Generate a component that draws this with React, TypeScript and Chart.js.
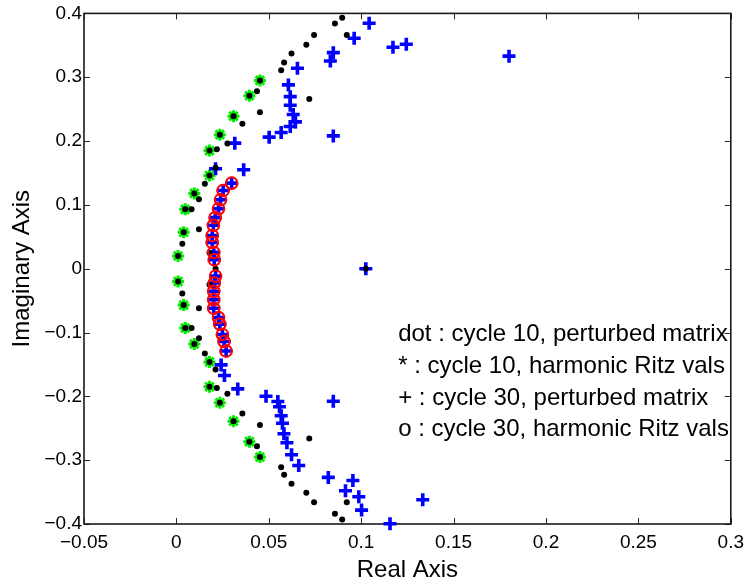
import React, { useEffect, useRef } from "react";
import { Chart, registerables } from "chart.js";

Chart.register(...registerables);

// cycle 10, perturbed matrix (dots)
const dot10Re = [
  0.0897, 0.0858, 0.0922, 0.0745, 0.0703, 0.0623, 0.0583, 0.0567, 0.0452, 0.0436,
  0.0395, 0.0719, 0.0452, 0.0309, 0.0357, 0.0235, 0.0276, 0.0219, 0.0179, 0.0212,
  0.0179, 0.0154, 0.0097, 0.0122, 0.0048, 0.0082, 0.0122, 0.0039, 0.0032, 0.0009,
  0.0179, 0.0212, 0.1025,
  0.0009, 0.0179, 0.0032, 0.0039, 0.0122, 0.0048, 0.0082, 0.0122, 0.0097, 0.0154,
  0.0179, 0.0212, 0.0179, 0.0219, 0.0276, 0.0235, 0.0357, 0.0309, 0.0452, 0.0719,
  0.0395, 0.0436, 0.0452, 0.0567, 0.0583, 0.0623, 0.0703, 0.0745, 0.0922, 0.0858,
  0.0897,
];
const dot10Im = [
  0.393, 0.384, 0.366, 0.366, 0.351, 0.337, 0.323, 0.311, 0.295, 0.278,
  0.271, 0.266, 0.245, 0.239, 0.227, 0.210, 0.196, 0.187, 0.185, 0.158,
  0.146, 0.133, 0.118, 0.109, 0.093, 0.093, 0.062, 0.057, 0.039, 0.020,
  0.025, 0.0, 0.0,
  -0.020, -0.025, -0.039, -0.057, -0.062, -0.093, -0.093, -0.109, -0.118, -0.133,
  -0.146, -0.158, -0.185, -0.187, -0.196, -0.210, -0.227, -0.239, -0.245, -0.266,
  -0.271, -0.278, -0.295, -0.311, -0.323, -0.337, -0.351, -0.366, -0.366, -0.384,
  -0.393,
];

// cycle 10, harmonic Ritz values (*)
const star10Re = [
  0.0452, 0.0395, 0.0309, 0.0235, 0.0179, 0.0179, 0.0097, 0.0048, 0.0039, 0.0009,
  0.0009, 0.0039, 0.0048, 0.0097, 0.0179, 0.0179, 0.0235, 0.0309, 0.0395, 0.0452,
];
const star10Im = [
  0.295, 0.271, 0.239, 0.210, 0.185, 0.146, 0.118, 0.093, 0.057, 0.020,
  -0.020, -0.057, -0.093, -0.118, -0.146, -0.185, -0.210, -0.239, -0.271, -0.295,
];

// cycle 30, perturbed matrix (+), points away from the Ritz values
const plus30Re = [
  0.1043, 0.0962, 0.0849, 0.0833, 0.1172, 0.1244, 0.180, 0.0655, 0.0606, 0.0616,
  0.0616, 0.0632, 0.0644, 0.0616, 0.0567, 0.0502, 0.0849, 0.0316, 0.0212, 0.0364,
  0.1025,
  0.0242, 0.0260, 0.0332, 0.0485, 0.0549, 0.0558, 0.0567, 0.0574, 0.0582, 0.0598,
  0.0623, 0.0662, 0.0822, 0.0849, 0.0955, 0.0915, 0.0987, 0.1002, 0.1156, 0.1333,
];
const plus30Im = [
  0.3845, 0.361, 0.3385, 0.3255, 0.347, 0.3516, 0.333, 0.314, 0.288, 0.2696,
  0.2562, 0.2415, 0.230, 0.2227, 0.2133, 0.2061, 0.2081, 0.1967, 0.1565, 0.155,
  0.0,
  -0.1507, -0.1674, -0.1883, -0.1998, -0.2081, -0.2164, -0.2305, -0.2421, -0.2587, -0.2728,
  -0.2915, -0.3083, -0.327, -0.2077, -0.3318, -0.348, -0.3573, -0.3782, -0.3995, -0.362,
];

// cycle 30, harmonic Ritz values (o); the + marks of cycle 30 coincide with them
const circ30Re = [
  0.0299, 0.0253, 0.0239, 0.0228, 0.0210, 0.0200, 0.0194, 0.0194, 0.0202, 0.0205,
  0.0212, 0.0205, 0.0202, 0.0202, 0.0202, 0.0228, 0.0235, 0.0249, 0.0258, 0.0269,
];
const circ30Im = [
  0.134, 0.1225, 0.108, 0.094, 0.080, 0.068, 0.052, 0.041, 0.0255, 0.014,
  -0.0116, -0.0225, -0.0355, -0.0485, -0.062, -0.0767, -0.087, -0.103, -0.114, -0.129,
];

const legendLines = [
  "dot : cycle 10, perturbed matrix",
  "* : cycle 10, harmonic Ritz vals",
  "+ : cycle 30, perturbed matrix",
  "o : cycle 30, harmonic Ritz vals",
];

const FONT = "'Liberation Sans', Arial, Helvetica, sans-serif";

function pts(re: number[], im: number[]) {
  return re.map((x, i) => ({ x, y: im[i] }));
}

function fmt(v: number, d: number) {
  const s = String(Number(v.toFixed(d)));
  return s.replace("-", "\u2212");
}

const boxPlugin = {
  id: "matlabBox",
  beforeDatasetsDraw(chart: any) {
    const { ctx, chartArea } = chart;
    const { left, right, top, bottom } = chartArea;
    const xs = chart.scales.x;
    const ys = chart.scales.y;
    ctx.save();
    ctx.strokeStyle = "#262626";
    ctx.lineWidth = 1;
    const tl = 6;
    ctx.beginPath();
    xs.ticks.forEach((t: any) => {
      const p = Math.round(xs.getPixelForValue(t.value)) + 0.5;
      ctx.moveTo(p, bottom);
      ctx.lineTo(p, bottom - tl);
      ctx.moveTo(p, top);
      ctx.lineTo(p, top + tl);
    });
    ys.ticks.forEach((t: any) => {
      const p = Math.round(ys.getPixelForValue(t.value)) + 0.5;
      ctx.moveTo(left, p);
      ctx.lineTo(left + tl, p);
      ctx.moveTo(right, p);
      ctx.lineTo(right - tl, p);
    });
    ctx.stroke();
    ctx.lineWidth = 1.6;
    ctx.strokeStyle = "#1a1a1a";
    ctx.strokeRect(left, top, right - left, bottom - top);
    ctx.restore();
  },
  afterDraw(chart: any) {
    const { ctx } = chart;
    const xs = chart.scales.x;
    const ys = chart.scales.y;
    ctx.save();
    ctx.font = `24px ${FONT}`;
    ctx.fillStyle = "#000";
    ctx.textAlign = "left";
    ctx.textBaseline = "middle";
    const lx = xs.getPixelForValue(0.12);
    const ly = [-0.103, -0.153, -0.203, -0.252];
    legendLines.forEach((s, i) => {
      ctx.fillText(s, lx, ys.getPixelForValue(ly[i]));
    });
    ctx.restore();
  },
};

export default function App() {
  const ref = useRef<HTMLCanvasElement | null>(null);
  useEffect(() => {
    if (!ref.current) return;
    const chart = new Chart(ref.current, {
      type: "scatter",
      data: {
        datasets: [
          {
            label: "* : cycle 10, harmonic Ritz vals",
            data: pts(star10Re, star10Im),
            pointStyle: "star",
            pointRadius: 6,
            pointBorderWidth: 3,
            pointBorderColor: "#00ee00",
            pointBackgroundColor: "#00ee00",
            order: 4,
            clip: false,
          } as any,
          {
            label: "+ : cycle 30, perturbed matrix",
            data: [...pts(plus30Re, plus30Im), ...pts(circ30Re, circ30Im)],
            pointStyle: "cross",
            pointRadius: 6.5,
            pointBorderWidth: 3.6,
            pointBorderColor: "#0000ff",
            pointBackgroundColor: "#0000ff",
            order: 3,
            clip: false,
          },
          {
            label: "dot : cycle 10, perturbed matrix",
            data: pts(dot10Re, dot10Im),
            pointStyle: "circle",
            pointRadius: 3,
            pointBorderWidth: 0,
            pointBackgroundColor: "#000000",
            pointBorderColor: "#000000",
            order: 2,
            clip: false,
          },
          {
            label: "o : cycle 30, harmonic Ritz vals",
            data: pts(circ30Re, circ30Im),
            pointStyle: "circle",
            pointRadius: 5.8,
            pointBorderWidth: 2,
            pointBorderColor: "#ff0000",
            pointBackgroundColor: "rgba(0,0,0,0)",
            order: 1,
            clip: false,
          },
        ],
      },
      options: {
        animation: false,
        responsive: false,
        devicePixelRatio: 1,
        events: [],
        layout: { padding: { left: 0, top: 13, right: 17, bottom: 0 } },
        plugins: {
          legend: { display: false },
          tooltip: { enabled: false },
          title: { display: false },
        },
        scales: {
          x: {
            type: "linear",
            position: "bottom",
            min: -0.05,
            max: 0.3,
            grid: { display: false, drawTicks: false },
            border: { display: false },
            ticks: {
              stepSize: 0.05,
              autoSkip: false,
              maxRotation: 0,
              padding: 7,
              color: "#000",
              font: { family: FONT, size: 19 },
              callback: (v: any) => fmt(Number(v), 2),
            },
            title: {
              display: true,
              text: "Real Axis",
              color: "#000",
              font: { family: FONT, size: 24, lineHeight: 1 },
              padding: { top: 0, bottom: 1 },
            },
            afterFit: (s: any) => {
              s.height = 59;
            },
          },
          y: {
            type: "linear",
            position: "left",
            min: -0.4,
            max: 0.4,
            grid: { display: false, drawTicks: false },
            border: { display: false },
            ticks: {
              stepSize: 0.1,
              autoSkip: false,
              padding: 2,
              color: "#000",
              font: { family: FONT, size: 19 },
              callback: (v: any) => fmt(Number(v), 1),
            },
            title: {
              display: true,
              text: "Imaginary Axis",
              color: "#000",
              font: { family: FONT, size: 24, lineHeight: 1 },
              padding: { top: 10, bottom: 0 },
            },
            afterFit: (s: any) => {
              s.width = 84;
            },
          },
        },
      },
      plugins: [boxPlugin],
    });
    return () => chart.destroy();
  }, []);
  return (
    <div style={{ position: "fixed", left: 0, top: 0, width: 751, height: 583, background: "#fff" }}>
      <canvas ref={ref} width={751} height={583} style={{ display: "block", width: 751, height: 583 }} />
    </div>
  );
}
